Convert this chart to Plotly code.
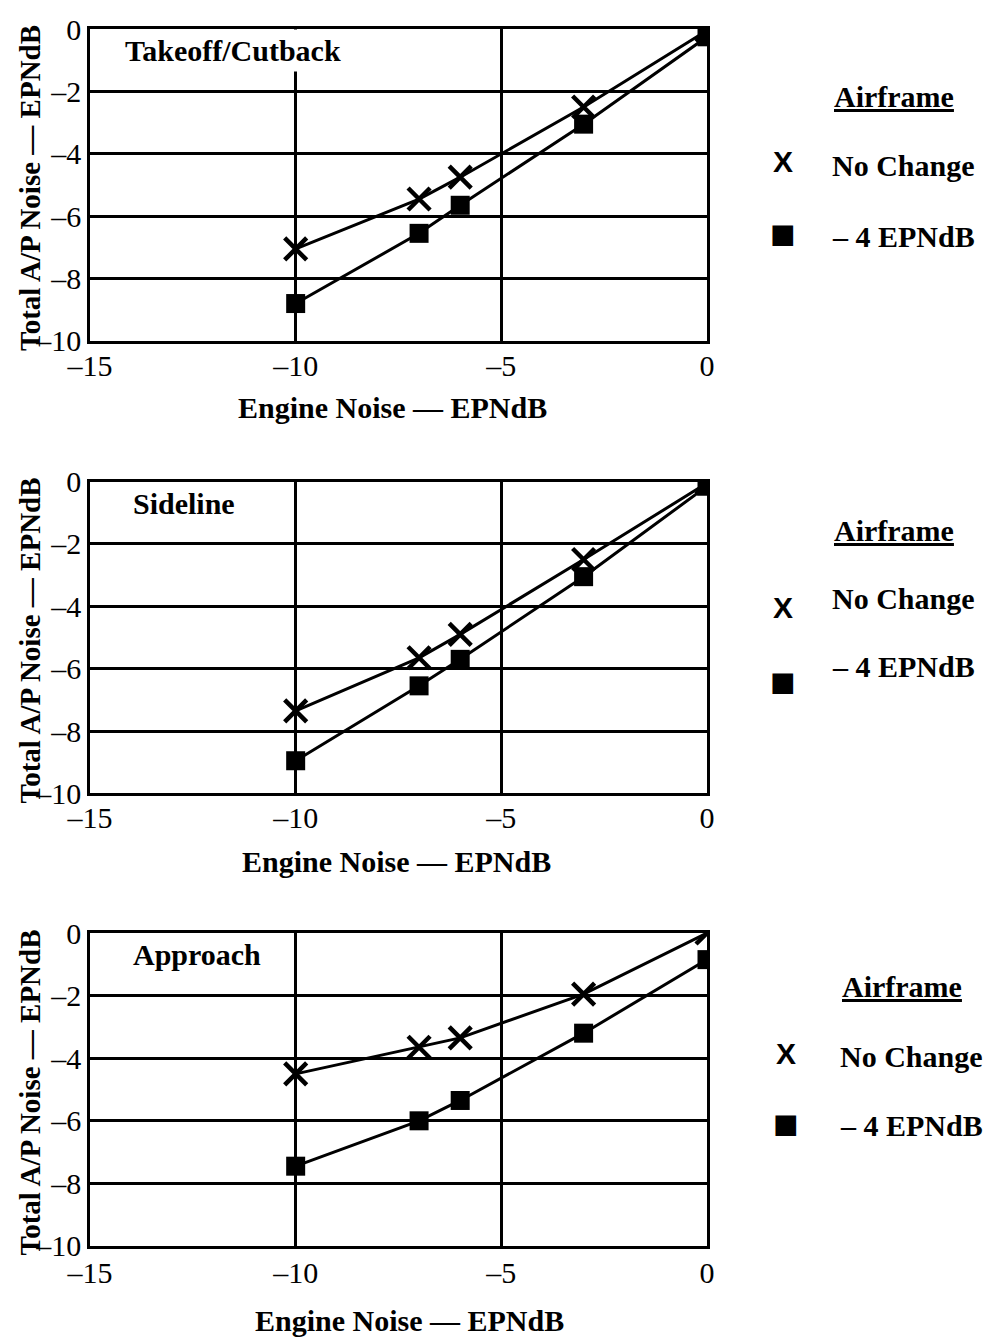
import plotly.graph_objects as go

# ---------------- data ----------------
engine_noise = [-10, -7, -6, -3, 0]

takeoff_no_change = [-7.05, -5.45, -4.75, -2.5, -0.05]
takeoff_minus4 = [-8.8, -6.55, -5.65, -3.05, -0.25]

sideline_no_change = [-7.35, -5.65, -4.9, -2.5, -0.05]
sideline_minus4 = [-8.95, -6.55, -5.7, -3.05, -0.15]

approach_no_change = [-4.5, -3.65, -3.35, -1.95, 0.0]
approach_minus4 = [-7.45, -6.0, -5.35, -3.2, -0.85]

panel_titles = ["Takeoff/Cutback", "Sideline", "Approach"]
series_names = ["No Change", "\u2013 4 EPNdB"]
legend_title = "Airframe"
x_title = "Engine Noise \u2014 EPNdB"
y_title = "Total A/P Noise \u2014 EPNdB"

x_ticks = [-15, -10, -5, 0]
x_ticktext = ["\u201315", "\u201310", "\u20135", "0"]
y_ticks = [0, -2, -4, -6, -8, -10]
y_ticktext = ["0", "\u20132", "\u20134", "\u20136", "\u20138", "\u201310"]

panels = [
    (takeoff_no_change, takeoff_minus4),
    (sideline_no_change, sideline_minus4),
    (approach_no_change, approach_minus4),
]

# ---------------- layout geometry (pixels) ----------------
W, H = 998, 1340
L, R = 90, 707
T, B = 25, 1246
plot_px = [(25, 338), (479, 792), (932, 1246)]  # top/bottom pixel of each plot


def px2x(px):
    return (px - L) / (R - L)


def py2y(py):
    return (B - py) / (B - T)


SERIF = "Liberation Serif"
fig = go.Figure()

for i, (nc, m4) in enumerate(panels):
    n = "" if i == 0 else str(i + 1)
    xa, ya = "x" + n, "y" + n
    fig.add_trace(go.Scatter(
        x=engine_noise, y=nc, xaxis=xa, yaxis=ya, mode="lines+markers",
        name=series_names[0], showlegend=False,
        line=dict(color="black", width=3),
        marker=dict(symbol="x-thin", size=22, line=dict(color="black", width=4.5)),
    ))
    fig.add_trace(go.Scatter(
        x=engine_noise, y=m4, xaxis=xa, yaxis=ya, mode="lines+markers",
        name=series_names[1], showlegend=False,
        line=dict(color="black", width=3),
        marker=dict(symbol="square", size=19, color="black"),
    ))

layout = dict(
    width=W, height=H,
    margin=dict(l=L, r=W - R, t=T, b=H - B),
    paper_bgcolor="white", plot_bgcolor="white",
    showlegend=False,
)

annotations = []
for i, (top, bot) in enumerate(plot_px):
    n = "" if i == 0 else str(i + 1)
    axis_common = dict(
        showline=True, linecolor="black", linewidth=2.5, mirror=True,
        showgrid=True, gridcolor="black", gridwidth=2.5,
        zeroline=False, ticks="",
        tickfont=dict(family=SERIF, size=30, color="black"),
    )
    layout["xaxis" + n] = dict(
        axis_common, range=[-15, 0], tickvals=x_ticks, ticktext=x_ticktext,
        domain=[0, 1], anchor="y" + n, ticklabelstandoff=[-4, -4, -2][i],
    )
    layout["yaxis" + n] = dict(
        axis_common, range=[-10, 0], tickvals=y_ticks, ticktext=y_ticktext,
        domain=[py2y(bot), py2y(top)], anchor="x" + n,
    )
    bold = dict(family=SERIF, size=30, color="black", weight="bold")
    # panel label
    annotations.append(dict(
        text=panel_titles[i], xref="paper", yref="paper",
        x=px2x(120 + (8 if i else 0)), y=py2y(top + 22),
        xanchor="left", yanchor="middle", showarrow=False,
        font=bold, bgcolor="white", borderpad=4,
    ))
    # axis titles
    annotations.append(dict(
        text=x_title, xref="paper", yref="paper",
        x=px2x([392, 396, 409][i]), y=py2y(bot + [67, 68, 75][i]),
        xanchor="center", yanchor="middle", showarrow=False, font=bold,
    ))
    annotations.append(dict(
        text=y_title, xref="paper", yref="paper",
        x=px2x(30), y=py2y((top + bot) / 2 + 3), textangle=-90,
        xanchor="center", yanchor="middle", showarrow=False,
        font=dict(family=SERIF, size=29, color="black", weight="bold"),
    ))

# legends (one per panel)
leg = [
    dict(ax=894, ay=93, sx=783, tx=830, y1=158, t1=162, y2=230, t2=233),
    dict(ax=894, ay=528, sx=783, tx=830, y1=605, t1=596, y2=680, t2=665),
    dict(ax=902, ay=986, sx=786, tx=838, y1=1053, t1=1056, y2=1123, t2=1125),
]
bold = dict(family=SERIF, size=30, color="black", weight="bold")
for g in leg:
    annotations.append(dict(
        text="<u>" + legend_title + "</u>", xref="paper", yref="paper",
        x=px2x(g["ax"]), y=py2y(g["ay"]), xanchor="center", yanchor="middle",
        showarrow=False, font=bold,
    ))
    annotations.append(dict(
        text="X", xref="paper", yref="paper",
        x=px2x(g["sx"]), y=py2y(g["y1"]), xanchor="center", yanchor="middle",
        showarrow=False,
        font=dict(family="Liberation Sans", size=30, color="black", weight="bold"),
    ))
    annotations.append(dict(
        text=series_names[0], xref="paper", yref="paper",
        x=px2x(g["tx"]), y=py2y(g["t1"]), xanchor="left", yanchor="middle",
        showarrow=False, font=bold,
    ))
    annotations.append(dict(
        text="\u25A0", xref="paper", yref="paper",
        x=px2x(g["sx"]), y=py2y(g["y2"]), xanchor="center", yanchor="middle",
        showarrow=False, font=dict(family="DejaVu Sans", size=27, color="black"),
    ))
    annotations.append(dict(
        text=series_names[1], xref="paper", yref="paper",
        x=px2x(g["tx"]), y=py2y(g["t2"]), xanchor="left", yanchor="middle",
        showarrow=False, font=bold,
    ))

layout["annotations"] = annotations
fig.update_layout(**layout)
fig.write_html("out.html")
